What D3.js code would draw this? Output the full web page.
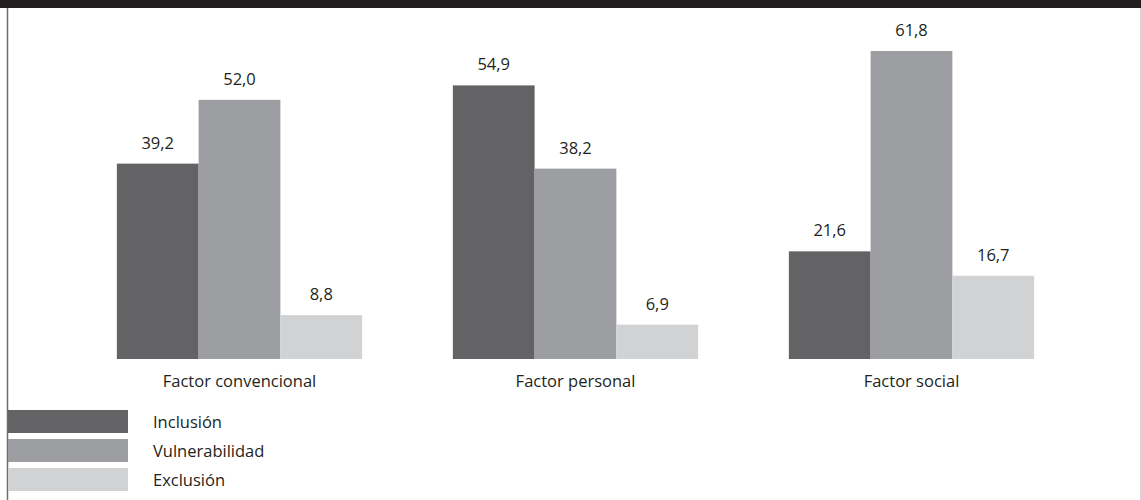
<!DOCTYPE html>
<html>
<head>
<meta charset="utf-8">
<script src="https://cdn.jsdelivr.net/npm/d3@7/dist/d3.min.js"></script>
<style>
  html, body { margin: 0; padding: 0; background: #fff; }
  svg { display: block; }
  text { font-family: "Open Sans", "Noto Sans", sans-serif; fill: #231f20; }
</style>
</head>
<body>
<svg id="chart" width="1141" height="500"></svg>
<script>
// Categories and series
const categories = ["Factor convencional", "Factor personal", "Factor social"];
const seriesNames = ["Inclusión", "Vulnerabilidad", "Exclusión"];
const inclusion = [39.2, 54.9, 21.6];
const vulnerabilidad = [52.0, 38.2, 61.8];
const exclusion = [8.8, 6.9, 16.7];
const seriesValues = [inclusion, vulnerabilidad, exclusion];
const colors = ["#636365", "#9d9ea2", "#d1d2d4"];

const svg = d3.select("#chart");
const W = 1141, H = 500;
const fontSize = 16.5;

// Frame: dark band on top, thin rules at the sides
svg.append("rect").attr("x", 0).attr("y", 0).attr("width", W).attr("height", 8).attr("fill", "#231f20");
svg.append("line").attr("x1", 7.5).attr("x2", 7.5).attr("y1", 8).attr("y2", H)
  .attr("stroke", "#6d6d6f").attr("stroke-width", 1.5);
svg.append("line").attr("x1", 1140.5).attr("x2", 1140.5).attr("y1", 8).attr("y2", H)
  .attr("stroke", "#d6d6d8").attr("stroke-width", 1);

// Scales
const x0 = d3.scaleBand().domain(categories).range([71.5, 1079.5]).paddingInner(0.27).paddingOuter(0.135);
const x1 = d3.scaleBand().domain(seriesNames).range([0, x0.bandwidth()]).padding(0);
const y = d3.scaleLinear().domain([0, 61.8]).range([359, 51]);

const fmt = v => d3.format(".1f")(v).replace(".", ",");

const rows = categories.map((c, i) => ({
  cat: c,
  vals: seriesNames.map((s, j) => ({ s, v: seriesValues[j][i], color: colors[j] }))
}));

const g = svg.append("g").selectAll("g").data(rows).join("g")
  .attr("transform", d => `translate(${x0(d.cat)},0)`);

g.selectAll("rect").data(d => d.vals).join("rect")
  .attr("x", d => x1(d.s))
  .attr("y", d => y(d.v))
  .attr("width", x1.bandwidth())
  .attr("height", d => y(0) - y(d.v))
  .attr("fill", d => d.color);

g.selectAll("text.val").data(d => d.vals).join("text")
  .attr("class", "val")
  .attr("x", d => x1(d.s) + x1.bandwidth() / 2)
  .attr("y", d => y(d.v) - 15)
  .attr("text-anchor", "middle")
  .attr("font-size", fontSize)
  .text(d => fmt(d.v));

// Category labels under the bars
svg.append("g").selectAll("text").data(categories).join("text")
  .attr("x", d => x0(d) + x0.bandwidth() / 2)
  .attr("y", 387)
  .attr("text-anchor", "middle")
  .attr("font-size", fontSize)
  .text(d => d);

// Legend
const legend = svg.append("g").selectAll("g").data(seriesNames).join("g")
  .attr("transform", (d, i) => `translate(8,${410 + i * 29})`);
legend.append("rect").attr("width", 120).attr("height", 23).attr("fill", (d, i) => colors[i]);
legend.append("text").attr("x", 145).attr("y", 18).attr("font-size", fontSize).text(d => d);
</script>
</body>
</html>
